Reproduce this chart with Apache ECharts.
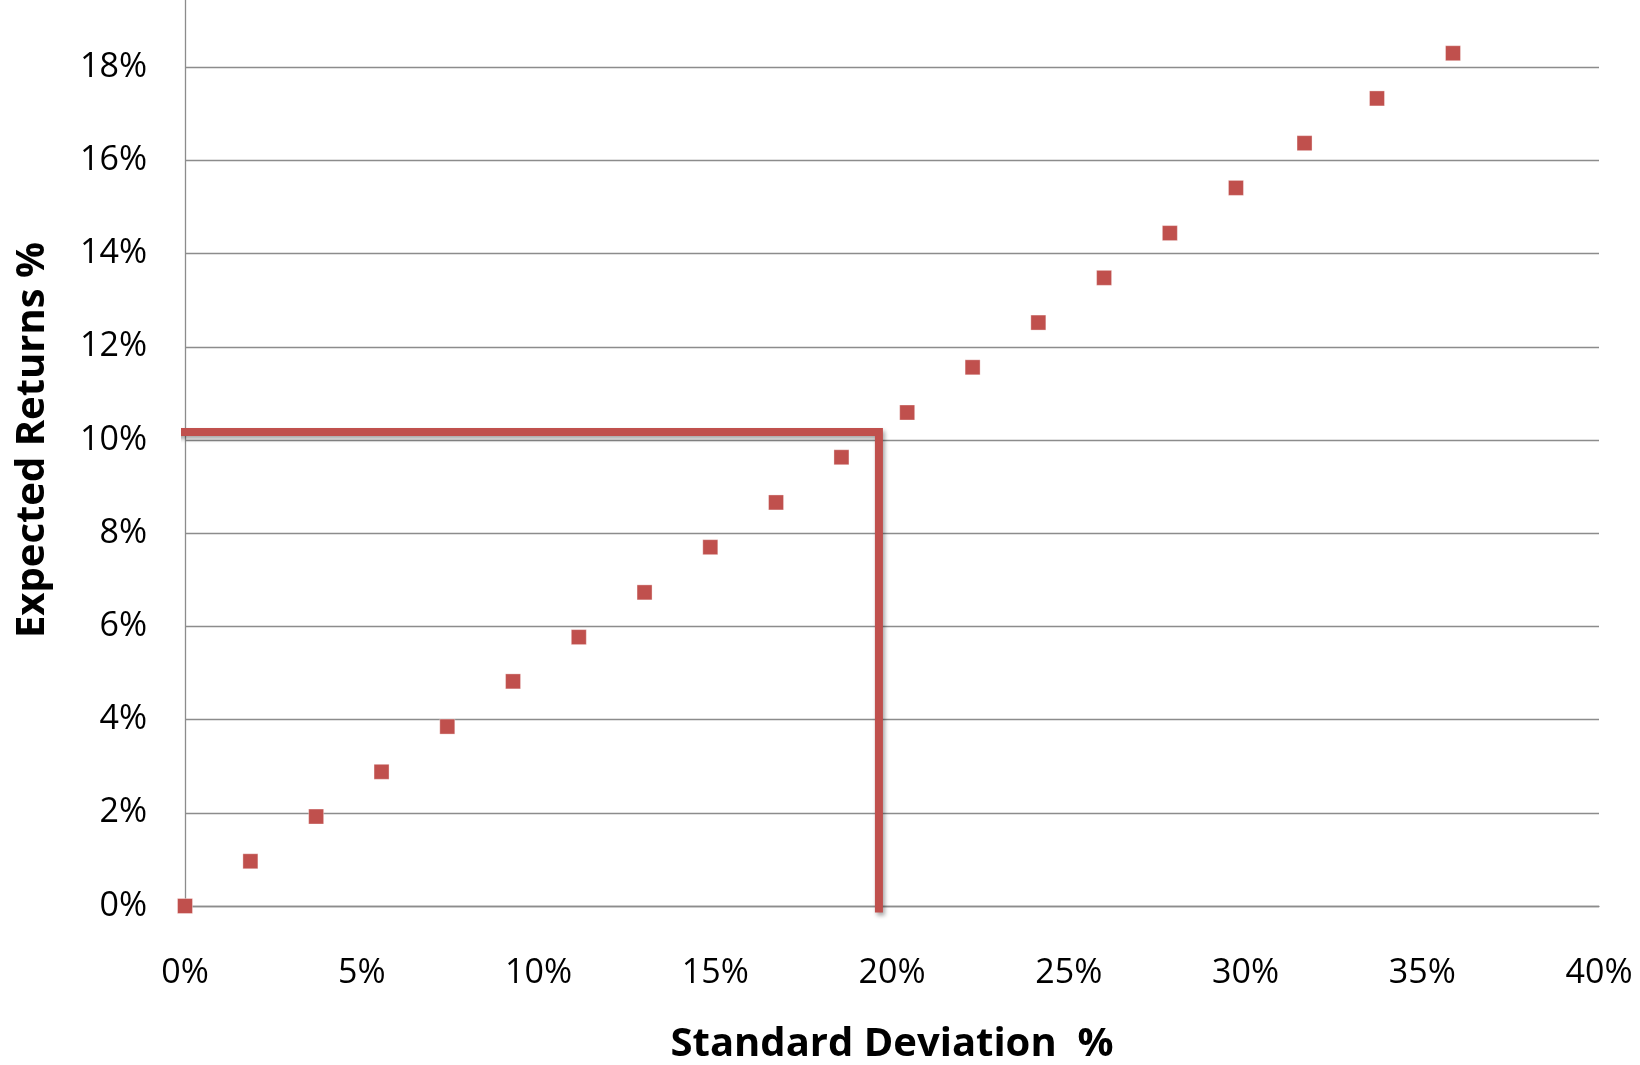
<!DOCTYPE html>
<html lang="en">

<head>
    <meta charset="UTF-8">
    <title>Standard Deviation vs Expected Returns</title>
    <script src="https://cdn.jsdelivr.net/npm/echarts@6/dist/echarts.min.js"></script>
    <style>
        html, body {
            margin: 0;
            padding: 0;
            background: #fff;
        }
    </style>
</head>

<body>
    <div id="chart" style="width: 1640px;height: 1065px;"></div>
</body>
<script>
    // portfolio points, both in %
    var stdDev = [0, 1.85, 3.71, 5.56, 7.42, 9.28, 11.14, 13.0, 14.86, 16.72,
        18.57, 20.43, 22.28, 24.14, 26.0, 27.86, 29.73, 31.67, 33.72, 35.87];
    var expReturn = [0, 0.96, 1.92, 2.88, 3.85, 4.82, 5.77, 6.73, 7.70, 8.66,
        9.63, 10.59, 11.56, 12.52, 13.48, 14.44, 15.41, 16.37, 17.33, 18.30];

    // red guide line (10% return -> ~20% std dev)
    var guideX = [-0.4, 19.63, 19.63];
    var guideY = [10.17, 10.17, -0.14];

    var points = stdDev.map(function (x, i) { return [x, expReturn[i]]; });
    var guide = guideX.map(function (x, i) { return [x, guideY[i]]; });

    var gridColor = '#8c8c8c';
    var red = '#C0504D';
    var font = '"Open Sans", "Noto Sans", sans-serif';

    var chart = echarts.init(document.getElementById('chart'));

    var option = {
        animation: false,
        backgroundColor: '#fff',
        grid: {
            left: 185,
            right: 41,
            top: -26,
            bottom: 159,
            outerBoundsMode: 'none'
        },
        xAxis: {
            type: 'value',
            min: 0,
            max: 40,
            interval: 5,
            name: 'Standard Deviation  %',
            nameLocation: 'middle',
            nameGap: 119,
            nameTextStyle: {
                color: '#000',
                fontFamily: font,
                fontWeight: 'bold',
                fontSize: 40
            },
            axisLine: { lineStyle: { color: gridColor, width: 1.3 } },
            axisTick: { show: false },
            axisLabel: {
                formatter: '{value}%',
                color: '#000',
                fontFamily: font,
                fontSize: 34,
                margin: 50
            },
            splitLine: { show: false }
        },
        yAxis: {
            type: 'value',
            min: 0,
            max: 20,
            interval: 2,
            name: 'Expected Returns %',
            nameLocation: 'middle',
            nameGap: 132,
            nameTextStyle: {
                color: '#000',
                fontFamily: font,
                fontWeight: 'bold',
                fontSize: 40
            },
            axisLine: { show: true, lineStyle: { color: gridColor, width: 1.3 } },
            axisTick: { show: false },
            axisLabel: {
                formatter: '{value}%',
                color: '#000',
                fontFamily: font,
                fontSize: 34,
                margin: 38
            },
            splitLine: { lineStyle: { color: gridColor, width: 1.3 } }
        },
        series: [
            {
                type: 'scatter',
                data: points,
                symbol: 'rect',
                symbolSize: 15,
                itemStyle: {
                    color: red,
                    opacity: 1,
                    borderColor: 'rgba(255,255,255,0.35)',
                    borderWidth: 1
                }
            },
            {
                type: 'line',
                data: guide,
                clip: false,
                symbol: 'none',
                lineStyle: {
                    color: red,
                    width: 8,
                    join: 'miter',
                    cap: 'butt',
                    shadowColor: 'rgba(0,0,0,0.35)',
                    shadowBlur: 4,
                    shadowOffsetX: 2,
                    shadowOffsetY: 3
                }
            }
        ]
    };

    chart.setOption(option);
</script>

</html>
